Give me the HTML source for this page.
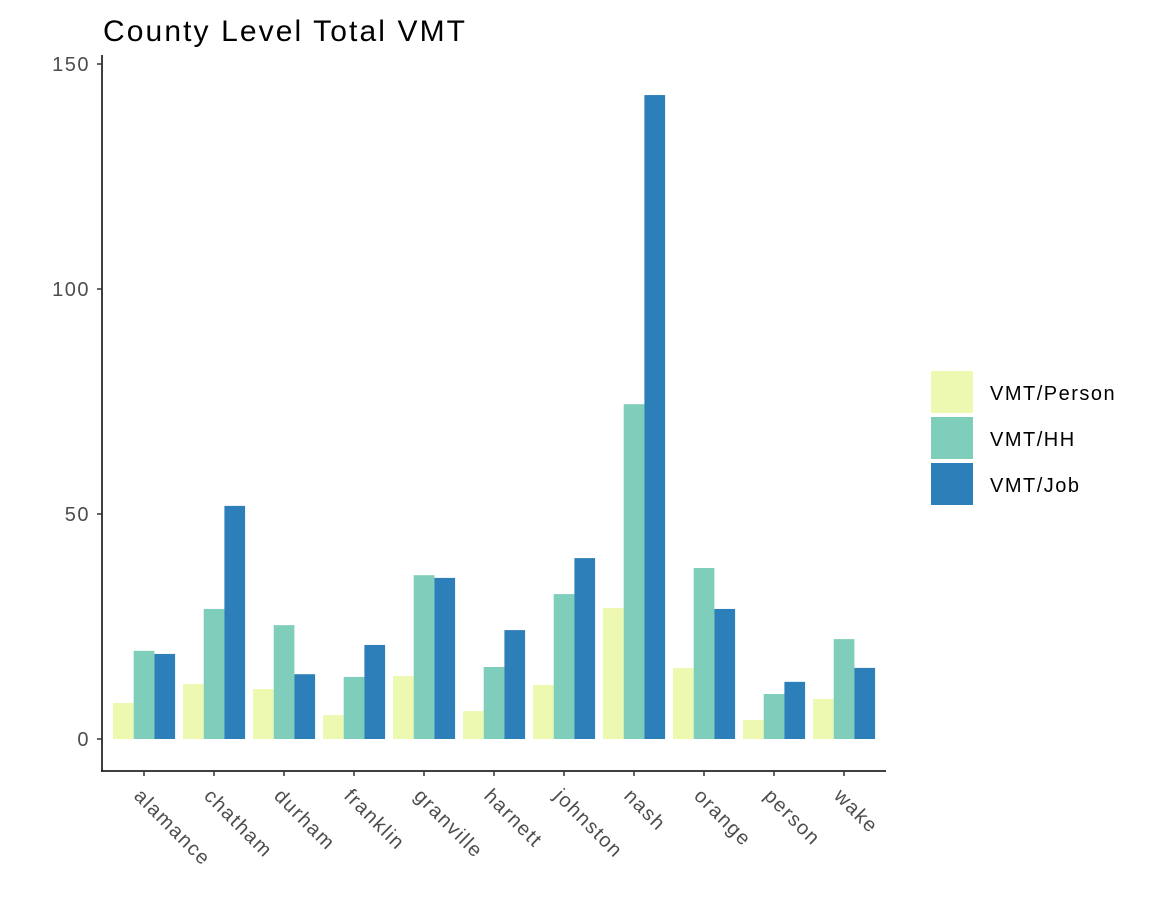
<!DOCTYPE html>
<html><head><meta charset="utf-8"><style>body{margin:0;background:#fff}svg{display:block;font-family:"Liberation Sans",Arial,sans-serif}</style></head>
<body>
<svg id="chart" width="1152" height="921" viewBox="0 0 1152 921">
<text x="103" y="41" font-size="30" fill="#000" textLength="362" lengthAdjust="spacing">County Level Total VMT</text>
<g id="bars"></g><g id="axes"></g><g id="legend"></g>
</svg>
<script>
const categories=["alamance","chatham","durham","franklin","granville","harnett","johnston","nash","orange","person","wake"];
const seriesNames=["VMT/Person","VMT/HH","VMT/Job"];
const vmtPerson=[8,12.2,11.1,5.3,14,6.2,12,29.1,15.8,4.2,8.9];
const vmtHH=[19.6,28.9,25.3,13.8,36.4,16,32.2,74.4,38,10,22.2];
const vmtJob=[18.9,51.8,14.4,20.9,35.8,24.2,40.2,143.1,28.9,12.7,15.8];
const yTicks=[0,50,100,150];
const colors=["#edf8b1","#7fcdbb","#2c7fb8"];
const NS="http://www.w3.org/2000/svg";
const y=v=>739-v*4.5;
const x=i=>144+i*70;
const bw=20.7;
function mk(t,a,p){const e=document.createElementNS(NS,t);for(const k in a)e.setAttribute(k,a[k]);p.appendChild(e);return e;}
const bars=document.getElementById('bars'),axes=document.getElementById('axes'),leg=document.getElementById('legend');
[vmtPerson,vmtHH,vmtJob].forEach((s,j)=>{s.forEach((v,i)=>{
const r=mk('rect',{x:x(i)-31+j*bw,y:y(v),width:bw,height:y(0)-y(v),fill:colors[j]},bars);

});});
mk('line',{x1:102,y1:55,x2:102,y2:771,stroke:'#000','stroke-width':1.5},axes);
mk('line',{x1:101,y1:771,x2:886,y2:771,stroke:'#000','stroke-width':1.5},axes);
yTicks.forEach(t=>{mk('line',{x1:97,y1:y(t),x2:102,y2:y(t),stroke:'#333','stroke-width':1.5},axes);
const tx=mk('text',{x:90,y:y(t)+7,'text-anchor':'end','font-size':20,'letter-spacing':1.5,fill:'#4d4d4d'},axes);tx.textContent=t;
});
categories.forEach((c,i)=>{mk('line',{x1:x(i),y1:771,x2:x(i),y2:776,stroke:'#333','stroke-width':1.5},axes);
const tx=mk('text',{x:x(i)-11,y:797,'font-size':20,'letter-spacing':1.5,fill:'#4d4d4d',transform:`rotate(45 ${x(i)-11} 797)`},axes);tx.textContent=c;
});
seriesNames.forEach((n,j)=>{const yy=371+j*46;
const r=mk('rect',{x:931,y:yy,width:42,height:42,fill:colors[j]},leg);

const t=mk('text',{x:990,y:yy+29,'font-size':20,'letter-spacing':1.5,fill:'#000'},leg);t.textContent=n;
});
</script>
</body></html>
